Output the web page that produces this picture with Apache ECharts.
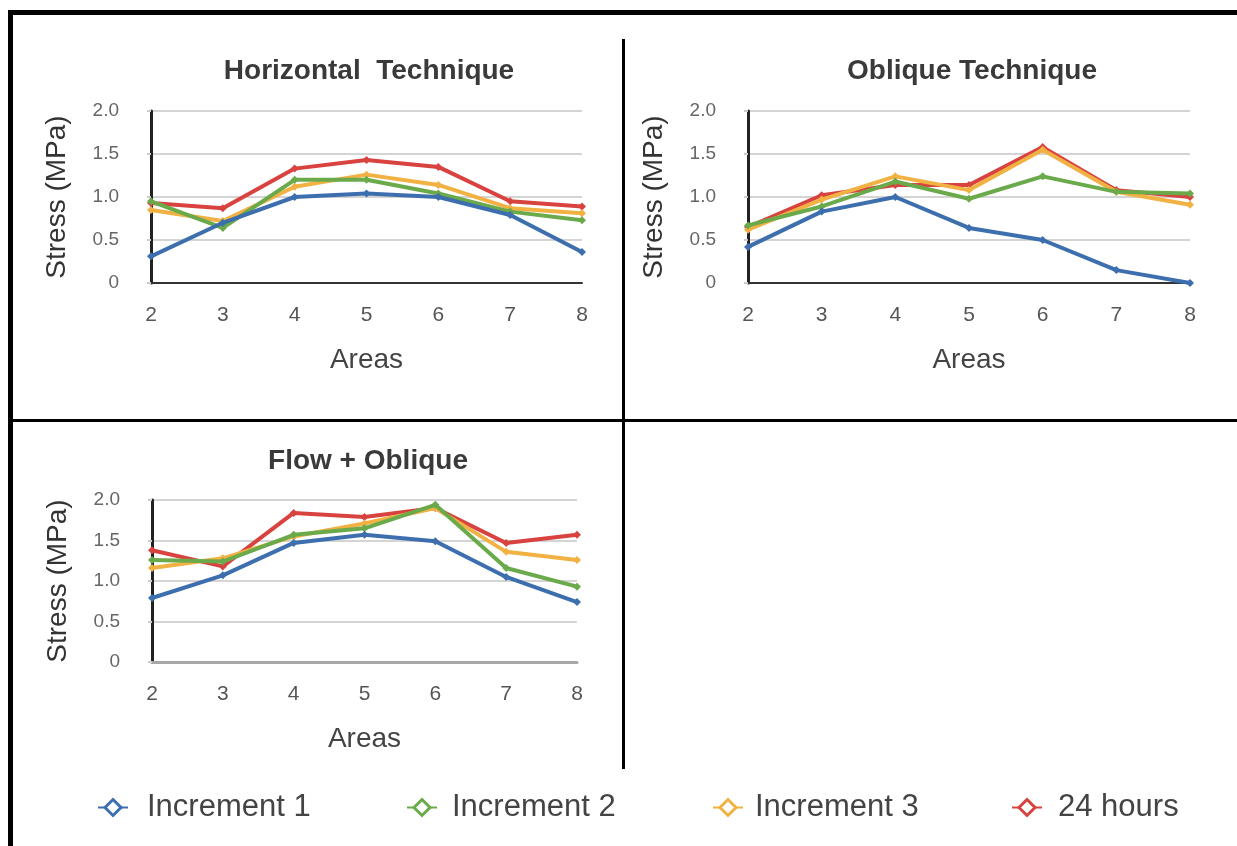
<!DOCTYPE html>
<html>
<head>
<meta charset="utf-8">
<title>Stress by area</title>
<script src="https://cdn.jsdelivr.net/npm/echarts@6/dist/echarts.min.js"></script>
<style>
  html, body { margin: 0; padding: 0; background: #fff; }
  #chart { width: 1237px; height: 846px; }
</style>
</head>
<body>
<div id="chart"></div>
<script>
// Areas along the x axis
const areas = ['2', '3', '4', '5', '6', '7', '8'];
const seriesNames = ['Increment 1', 'Increment 2', 'Increment 3', '24 hours'];
const panelTitles = ['Horizontal  Technique', 'Oblique Technique', 'Flow + Oblique'];

// Horizontal technique (MPa)
const horizInc1 = [0.31, 0.70, 1.00, 1.04, 1.00, 0.79, 0.36];
const horizInc2 = [0.95, 0.64, 1.20, 1.20, 1.04, 0.83, 0.73];
const horizInc3 = [0.85, 0.72, 1.12, 1.26, 1.14, 0.87, 0.81];
const horiz24h  = [0.93, 0.87, 1.33, 1.43, 1.35, 0.95, 0.89];

// Oblique technique (MPa)
const obliqInc1 = [0.42, 0.83, 1.00, 0.64, 0.50, 0.15, 0.00];
const obliqInc2 = [0.67, 0.89, 1.18, 0.98, 1.24, 1.06, 1.04];
const obliqInc3 = [0.62, 0.97, 1.24, 1.08, 1.55, 1.06, 0.91];
const obliq24h  = [0.65, 1.02, 1.14, 1.14, 1.58, 1.08, 1.00];

// Flow + oblique (MPa)
const flowInc1 = [0.79, 1.07, 1.47, 1.57, 1.49, 1.05, 0.74];
const flowInc2 = [1.26, 1.24, 1.57, 1.65, 1.94, 1.16, 0.93];
const flowInc3 = [1.16, 1.28, 1.55, 1.71, 1.90, 1.36, 1.26];
const flow24h  = [1.38, 1.18, 1.84, 1.79, 1.90, 1.47, 1.57];

// Y axis ticks
const yMin = 0, yMax = 2, yStep = 0.5;

const panelData = [
  [horizInc1, horizInc2, horizInc3, horiz24h],
  [obliqInc1, obliqInc2, obliqInc3, obliq24h],
  [flowInc1, flowInc2, flowInc3, flow24h]
];

const colors = ['#3d6fae', '#6aaa4b', '#f2b143', '#d8433f'];
const FONT = '"Liberation Sans", Arial, sans-serif';

// plot rectangles for the three panels
const grids = [
  { left: 151, top: 111, width: 431, height: 172 },
  { left: 748, top: 111, width: 442, height: 172 },
  { left: 152, top: 500, width: 425, height: 162 }
];
const titlePos = [
  { x: 364, y: 52 },
  { x: 967, y: 52 },
  { x: 363, y: 442 }
];
const xLineStyle = [
  { color: '#333', width: 2 },
  { color: '#333', width: 2 },
  { color: '#a8a8a8', width: 3 }
];

const chart = echarts.init(document.getElementById('chart'), null, { renderer: 'canvas' });

const xAxes = grids.map((g, i) => ({
  type: 'category',
  gridIndex: i,
  data: areas,
  boundaryGap: false,
  axisLine: { lineStyle: xLineStyle[i] },
  axisTick: { show: false },
  axisLabel: { color: '#555', fontSize: 21, fontFamily: FONT, margin: 22 },
  name: 'Areas',
  nameLocation: 'middle',
  nameGap: 63,
  nameTextStyle: { color: '#444', fontSize: 28, fontFamily: FONT }
}));

const yAxes = grids.map((g, i) => ({
  type: 'value',
  gridIndex: i,
  min: yMin,
  max: yMax,
  interval: yStep,
  axisLine: { show: true, lineStyle: { color: '#222', width: 3 } },
  axisTick: { show: true, length: 4, lineStyle: { color: '#ccc', width: 2 } },
  splitLine: { lineStyle: { color: '#d4d4d4', width: 2 } },
  axisLabel: {
    color: '#666', fontSize: 19, fontFamily: FONT, margin: 32,
    formatter: v => (v === 0 ? '0' : v.toFixed(1))
  },
  name: 'Stress (MPa)',
  nameLocation: 'middle',
  nameGap: 80,
  nameTextStyle: { color: '#333', fontSize: 28, fontFamily: FONT }
}));

const series = [];
panelData.forEach((group, p) => {
  group.forEach((vals, s) => {
    series.push({
      type: 'line',
      name: seriesNames[s],
      xAxisIndex: p,
      yAxisIndex: p,
      data: vals,
      symbol: 'diamond',
      symbolSize: 8,
      showSymbol: true,
      lineStyle: { color: colors[s], width: 4 },
      itemStyle: { color: colors[s] },
      z: 2 + (s === 0 ? 3 : s === 1 ? 2 : s === 2 ? 1 : 0),
      animation: false
    });
  });
});

const titles = panelTitles.map((t, i) => ({
  text: t,
  left: titlePos[i].x,
  top: titlePos[i].y,
  textAlign: 'center',
  textStyle: { color: '#3a3a3a', fontSize: 28, fontWeight: 'bold', fontFamily: FONT }
}));

// one legend block per series so each entry sits at its own spot
const legendLeft = [92, 401, 707, 1006];
const legendPad = [14, 10, 7, 11];
const legends = seriesNames.map((n, i) => ({
  data: [{ name: n, itemStyle: { color: '#fff', borderColor: colors[i], borderWidth: 3 } }],
  left: legendLeft[i],
  top: 787,
  itemWidth: 30,
  itemHeight: 20,
  selectedMode: false,
  textStyle: { color: '#444', fontSize: 31, fontFamily: FONT, padding: [0, 0, 0, legendPad[i]] }
}));

// frame and panel dividers
const graphic = [
  { type: 'rect', shape: { x: 8, y: 10, width: 1229, height: 5 }, style: { fill: '#000' }, silent: true },
  { type: 'rect', shape: { x: 8, y: 10, width: 5, height: 836 }, style: { fill: '#000' }, silent: true },
  { type: 'rect', shape: { x: 8, y: 419, width: 1229, height: 3 }, style: { fill: '#000' }, silent: true },
  { type: 'rect', shape: { x: 622, y: 39, width: 3, height: 730 }, style: { fill: '#000' }, silent: true }
];

chart.setOption({
  backgroundColor: '#fff',
  animation: false,
  title: titles,
  legend: legends,
  grid: grids,
  xAxis: xAxes,
  yAxis: yAxes,
  series: series,
  graphic: graphic
});
</script>
</body>
</html>
